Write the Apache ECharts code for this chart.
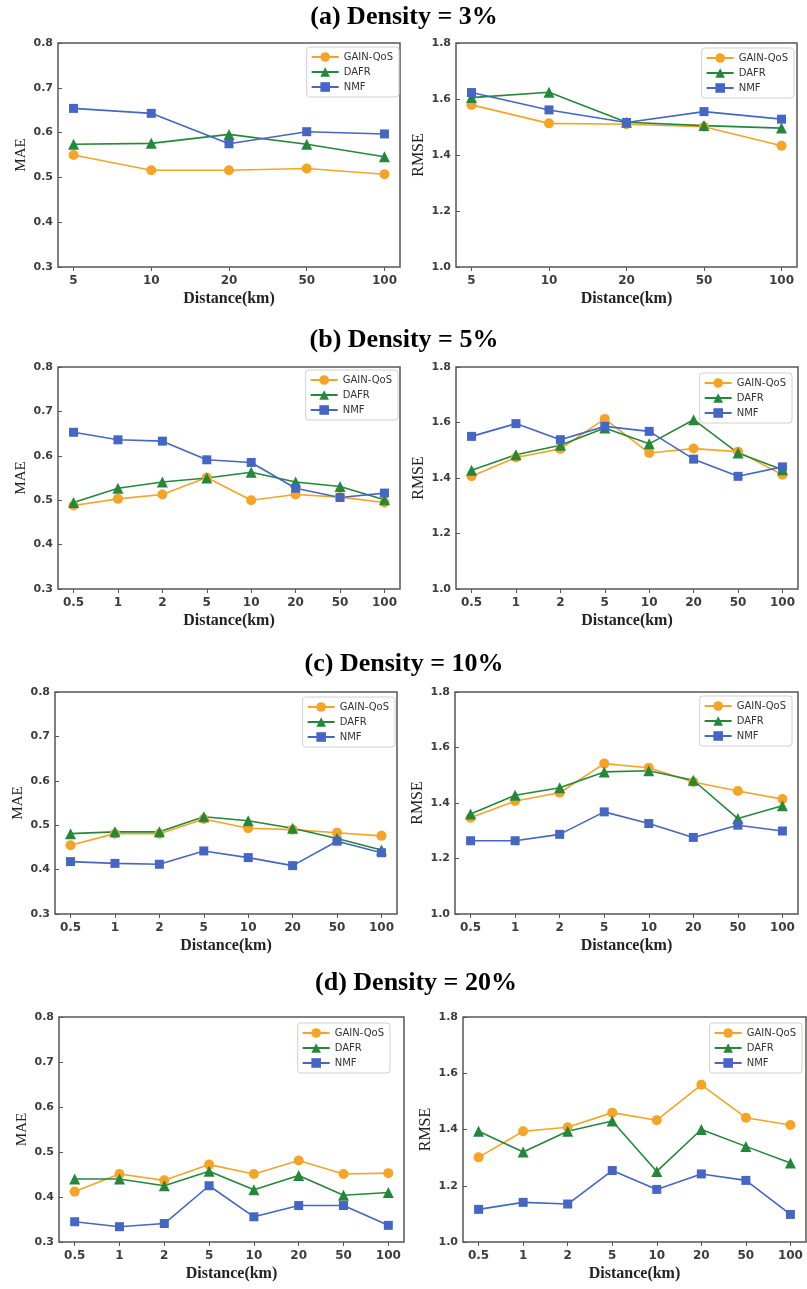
<!DOCTYPE html>
<html><head><meta charset="utf-8">
<script src="https://cdn.jsdelivr.net/npm/echarts@6/dist/echarts.min.js"></script>
<style>html,body{margin:0;padding:0;background:#fff}#c{width:807px;height:1289px}</style>
</head><body><div id="c"></div>
<script>
// ---------- data ----------
const methods = ['GAIN-QoS', 'DAFR', 'NMF'];
const distances3 = ['5', '10', '20', '50', '100'];
const distances = ['0.5', '1', '2', '5', '10', '20', '50', '100'];
const panelTitles = ['(a) Density = 3%', '(b) Density = 5%', '(c) Density = 10%', '(d) Density = 20%'];
const maeTicks = [0.3, 0.4, 0.5, 0.6, 0.7, 0.8];
const rmseTicks = [1.0, 1.2, 1.4, 1.6, 1.8];

// Density 3%
const gainMae3 = [0.550, 0.516, 0.516, 0.520, 0.507];
const dafrMae3 = [0.574, 0.576, 0.596, 0.574, 0.546];
const nmfMae3 = [0.654, 0.643, 0.575, 0.602, 0.597];
const gainRmse3 = [1.579, 1.513, 1.510, 1.501, 1.433];
const dafrRmse3 = [1.605, 1.624, 1.517, 1.505, 1.496];
const nmfRmse3 = [1.623, 1.561, 1.516, 1.555, 1.528];
// Density 5%
const gainMae5 = [0.488, 0.503, 0.513, 0.551, 0.500, 0.513, 0.507, 0.495];
const dafrMae5 = [0.495, 0.527, 0.541, 0.550, 0.563, 0.541, 0.531, 0.501];
const nmfMae5 = [0.653, 0.636, 0.633, 0.591, 0.585, 0.527, 0.506, 0.516];
const gainRmse5 = [1.406, 1.474, 1.505, 1.613, 1.490, 1.506, 1.495, 1.412];
const dafrRmse5 = [1.428, 1.484, 1.518, 1.580, 1.523, 1.610, 1.490, 1.430];
const nmfRmse5 = [1.550, 1.596, 1.538, 1.586, 1.568, 1.468, 1.406, 1.440];
// Density 10%
const gainMae10 = [0.455, 0.481, 0.481, 0.514, 0.493, 0.490, 0.483, 0.476];
const dafrMae10 = [0.481, 0.485, 0.485, 0.519, 0.510, 0.493, 0.470, 0.444];
const nmfMae10 = [0.418, 0.414, 0.412, 0.442, 0.427, 0.409, 0.464, 0.438];
const gainRmse10 = [1.347, 1.407, 1.437, 1.542, 1.527, 1.476, 1.443, 1.414];
const dafrRmse10 = [1.360, 1.428, 1.455, 1.512, 1.516, 1.482, 1.344, 1.390];
const nmfRmse10 = [1.264, 1.264, 1.287, 1.368, 1.326, 1.276, 1.320, 1.299];
// Density 20%
const gainMae20 = [0.412, 0.451, 0.437, 0.472, 0.451, 0.481, 0.451, 0.453];
const dafrMae20 = [0.440, 0.440, 0.425, 0.457, 0.416, 0.448, 0.404, 0.410];
const nmfMae20 = [0.345, 0.334, 0.341, 0.425, 0.356, 0.381, 0.381, 0.337];
const gainRmse20 = [1.301, 1.394, 1.408, 1.460, 1.433, 1.559, 1.442, 1.416];
const dafrRmse20 = [1.394, 1.320, 1.394, 1.430, 1.251, 1.400, 1.340, 1.281];
const nmfRmse20 = [1.116, 1.141, 1.135, 1.254, 1.187, 1.242, 1.219, 1.098];

// ---------- layout / style ----------
const colors = ['#F6A427', '#23883A', '#4567C3'];
const symbols = ['circle', 'triangle', 'rect'];
const symbolSizes = [10, 11, 9];
const titlePos = [[404, 17], [404, 340], [404, 664], [416, 983]];

const panels = [
  { frame: [58, 43, 400, 267], cats: distances3, metric: 'MAE', data: [gainMae3, dafrMae3, nmfMae3], lg: [408, 47] },
  { frame: [456, 43, 797, 267], cats: distances3, metric: 'RMSE', data: [gainRmse3, dafrRmse3, nmfRmse3], lg: [13, 48] },
  { frame: [58, 367, 400, 589], cats: distances, metric: 'MAE', data: [gainMae5, dafrMae5, nmfMae5], lg: [409, 370] },
  { frame: [456, 367, 798, 589], cats: distances, metric: 'RMSE', data: [gainRmse5, dafrRmse5, nmfRmse5], lg: [15, 373] },
  { frame: [55, 692, 397, 914], cats: distances, metric: 'MAE', data: [gainMae10, dafrMae10, nmfMae10], lg: [412, 697] },
  { frame: [455, 692, 798, 914], cats: distances, metric: 'RMSE', data: [gainRmse10, dafrRmse10, nmfRmse10], lg: [15, 696] },
  { frame: [59, 1017, 404, 1242], cats: distances, metric: 'MAE', data: [gainMae20, dafrMae20, nmfMae20], lg: [417, 1023] },
  { frame: [463, 1017, 806, 1242], cats: distances, metric: 'RMSE', data: [gainRmse20, dafrRmse20, nmfRmse20], lg: [5, 1023] }
];

const option = { animation: false, backgroundColor: '#fff', title: [], grid: [], xAxis: [], yAxis: [], legend: [], series: [] };

panelTitles.forEach((t, i) => {
  option.title.push({
    text: t, left: titlePos[i][0], top: titlePos[i][1], textAlign: 'center', textVerticalAlign: 'middle', padding: 0,
    textStyle: { fontFamily: 'Liberation Serif', fontWeight: 'bold', fontSize: 26, color: '#000' }
  });
});

const axisColor = '#5a5555';
panels.forEach((p, i) => {
  const [L, T, R, B] = p.frame;
  const W = R - L, H = B - T, inset = W / 22;
  const ticks = p.metric === 'MAE' ? maeTicks : rmseTicks;
  const ymin = ticks[0], ymax = ticks[ticks.length - 1], step = +(ticks[1] - ticks[0]).toFixed(3);
  const g0 = 2 * i, g1 = 2 * i + 1;
  option.grid.push({ left: L, top: T, width: W, height: H, show: true, borderColor: axisColor, borderWidth: 1.5, backgroundColor: 'rgba(0,0,0,0)', outerBoundsMode: 'none', containLabel: false });
  option.grid.push({ left: L + inset, top: T, width: W - 2 * inset, height: H, outerBoundsMode: 'none', containLabel: false });
  option.xAxis.push({ gridIndex: g0, type: 'value', min: 0, max: 1, show: false });
  option.yAxis.push({
    gridIndex: g0, type: 'value', min: ymin, max: ymax, interval: step,
    axisLine: { show: false }, splitLine: { show: false },
    axisTick: { show: true, inside: true, length: 4, lineStyle: { color: axisColor } },
    axisLabel: { showMinLabel: true, showMaxLabel: true, margin: 5, fontFamily: 'DejaVu Sans', fontWeight: 'bold', fontSize: 11, color: '#3d3d3d', formatter: v => v.toFixed(1) },
    name: p.metric, nameLocation: 'middle', nameGap: 29, nameRotate: 90,
    nameTextStyle: { fontFamily: 'Liberation Serif', fontSize: p.metric === 'MAE' ? 15 : 16, color: '#222' }
  });
  option.xAxis.push({
    gridIndex: g1, type: 'category', data: p.cats, boundaryGap: false,
    axisLine: { show: false }, splitLine: { show: false },
    axisTick: { show: true, length: 4, lineStyle: { color: axisColor } },
    axisLabel: { interval: 0, margin: 8, fontFamily: 'DejaVu Sans', fontWeight: 'bold', fontSize: 12, color: '#3d3d3d' },
    name: 'Distance(km)', nameLocation: 'middle', nameGap: 24,
    nameTextStyle: { fontFamily: 'Liberation Serif', fontWeight: 'bold', fontSize: 16, color: '#222' }
  });
  option.yAxis.push({ gridIndex: g1, type: 'value', min: ymin, max: ymax, show: false, splitLine: { show: false } });
  methods.forEach((m, k) => {
    option.series.push({
      type: 'line', name: m, xAxisIndex: g1, yAxisIndex: g1, data: p.data[k],
      symbol: symbols[k], symbolSize: symbolSizes[k], showAllSymbol: true,
      itemStyle: { color: colors[k] }, lineStyle: { color: colors[k], width: 1.6 }
    });
  });
  option.legend.push({
    data: methods, orient: 'vertical', right: p.lg[0], top: p.lg[1], selectedMode: false,
    itemWidth: 27, itemHeight: 12, itemGap: 5, padding: [5, 6, 5, 4],
    backgroundColor: '#fff', borderColor: '#d0d0d0', borderWidth: 1, borderRadius: 3,
    textStyle: { fontFamily: 'DejaVu Sans', fontSize: 10, color: '#333' }
  });
});

const chart = echarts.init(document.getElementById('c'), null, { renderer: 'canvas' });
chart.setOption(option);
</script>
</body></html>
